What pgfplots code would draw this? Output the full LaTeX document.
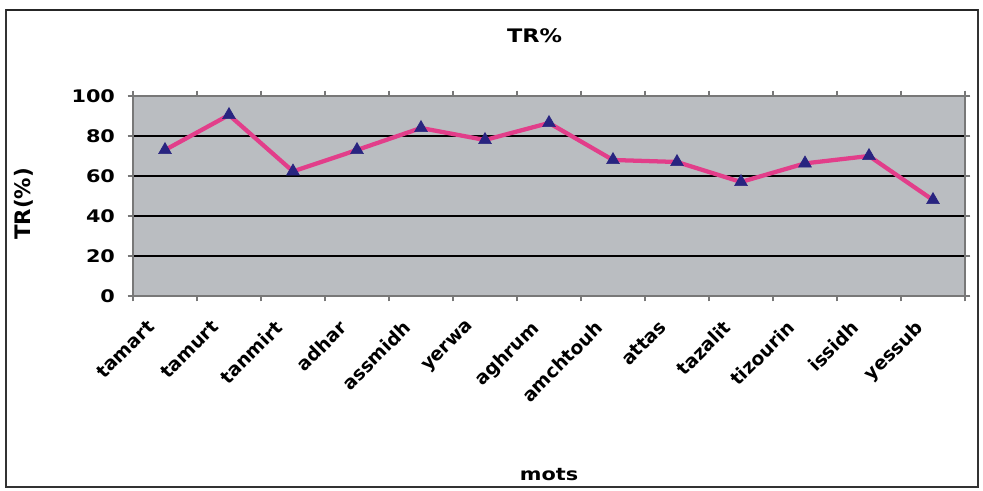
\documentclass[border=0pt]{standalone}
\usepackage{pgfplots}
\pgfplotsset{compat=1.18}
\usepackage{fontspec}
\setmainfont{DejaVu Sans}
\newfontfamily\wide[FakeStretch=1.2]{DejaVu Sans}
\definecolor{plotbg}{RGB}{186,189,193}
\definecolor{linepink}{RGB}{226,62,138}
\definecolor{markblue}{RGB}{40,36,128}
\definecolor{axgray}{RGB}{120,120,120}
\begin{document}
\begin{tikzpicture}
\path[use as bounding box] (0,0) rectangle (737.25pt,368.25pt);
\draw[line width=0.8pt,black!80] (4.5pt,3pt) rectangle (733.5pt,360.75pt);
\draw[line width=2.2pt,black!85] (4.5pt,360.75pt) -- (733.5pt,360.75pt);
\node[font=\wide\bfseries\fontsize{14}{16}\selectfont] at (401pt,341.6pt) {TR\%};
\node[font=\bfseries\fontsize{16}{18}\selectfont,rotate=90] at (17.5pt,215.25pt) {TR(\%)};
\node[font=\wide\bfseries\fontsize{13}{15}\selectfont] at (411.75pt,12pt) {mots};
\begin{axis}[
  at={(99.75pt,146.25pt)}, anchor=south west,
  scale only axis, width=624pt, height=150pt,
  xmin=-0.5, xmax=12.5, ymin=0, ymax=100,
  axis background/.style={fill=plotbg},
  axis line style={axgray, line width=0.8pt},
  xtick={0,...,12},
  xticklabels={tamart,tamurt,tanmirt,adhar,assmidh,yerwa,aghrum,amchtouh,attas,tazalit,tizourin,issidh,yessub},
  minor xtick={-0.5,0.5,...,12.5},
  major x tick style={draw=none},
  minor tick length=4pt,
  major tick length=4pt,
  tick align=outside,
  tick style={axgray, line width=0.8pt},
  ytick={0,20,...,100},
  ymajorgrids,
  major grid style={black, line width=2pt},
  x tick label style={rotate=45, anchor=north east, font=\bfseries\fontsize{14}{15}\selectfont, inner sep=1pt, xshift=-18.4pt, yshift=1.7pt},
  y tick label style={font=\wide\bfseries\fontsize{13}{15}\selectfont, xshift=-6pt},
  /pgf/number format/assume math mode=true,
  clip=false,
]
\addplot[linepink, line width=3.2pt, mark=triangle*, mark size=5.5pt,
  mark options={fill=markblue, draw=markblue, line width=0.5pt}]
coordinates {
(0,73) (1,90.5) (2,62.3) (3,73) (4,84) (5,78) (6,86.5) (7,68) (8,67) (9,57) (10,66.3) (11,70) (12,48)
};
\end{axis}
\end{tikzpicture}
\end{document}
